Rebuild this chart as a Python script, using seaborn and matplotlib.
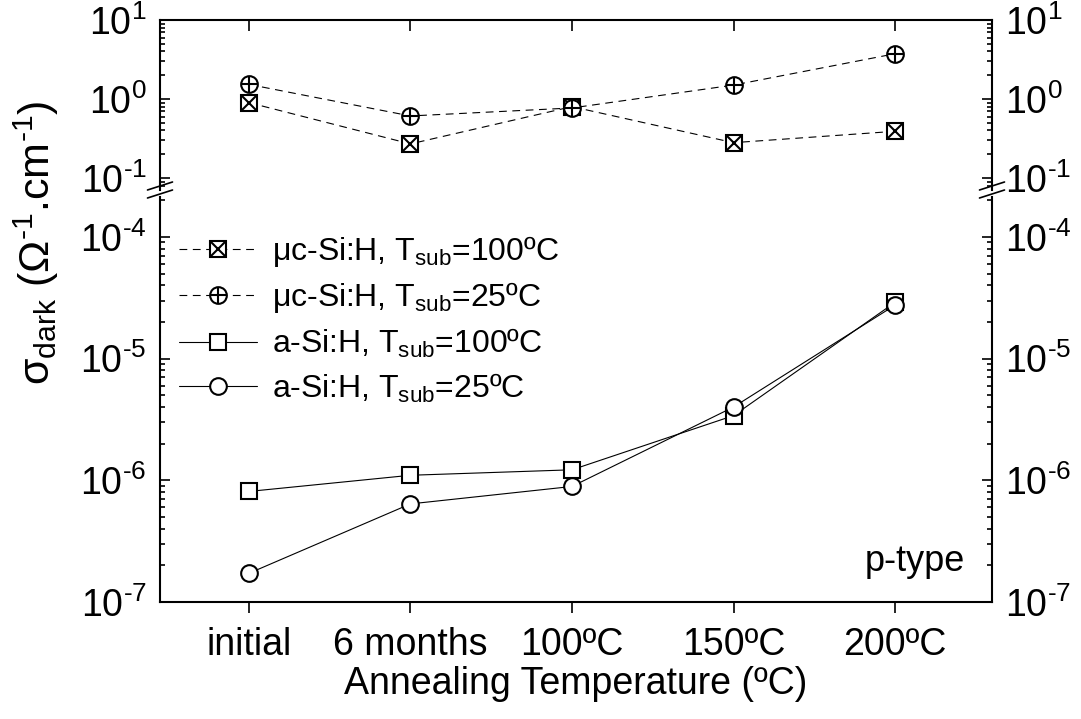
import numpy as np
import matplotlib
matplotlib.use("Agg")
import matplotlib.pyplot as plt
import seaborn as sns
from matplotlib.lines import Line2D
from matplotlib.legend_handler import HandlerTuple
from matplotlib.ticker import LogLocator, NullFormatter, FuncFormatter

# data
categories = ["initial", "6 months", "100ºC", "150ºC", "200ºC"]
uc_100 = [0.90, 0.27, 0.80, 0.28, 0.39]      # uc-Si:H, Tsub=100C
uc_25 = [1.53, 0.61, 0.77, 1.50, 3.74]       # uc-Si:H, Tsub=25C
a_100 = [8.1e-7, 1.10e-6, 1.22e-6, 3.4e-6, 2.9e-5]   # a-Si:H, Tsub=100C
a_25 = [1.72e-7, 6.4e-7, 8.9e-7, 4.0e-6, 2.75e-5]    # a-Si:H, Tsub=25C
labels = [
    "μc-Si:H, T$_{\\mathrm{sub}}$=100ºC",
    "μc-Si:H, T$_{\\mathrm{sub}}$=25ºC",
    "a-Si:H, T$_{\\mathrm{sub}}$=100ºC",
    "a-Si:H, T$_{\\mathrm{sub}}$=25ºC",
]

sns.set_style("ticks")
plt.rcParams["font.family"] = ["Liberation Sans", "DejaVu Sans"]
plt.rcParams["mathtext.fontset"] = "custom"
plt.rcParams["mathtext.rm"] = "Liberation Sans"
plt.rcParams["mathtext.it"] = "Liberation Sans:italic"
plt.rcParams["mathtext.bf"] = "Liberation Sans:bold"
plt.rcParams["axes.linewidth"] = 1.5
for k in ("text.color", "axes.labelcolor", "xtick.color", "ytick.color", "axes.edgecolor"):
    plt.rcParams[k] = "black"

W, H = 1081, 719
fig = plt.figure(figsize=(W / 100, H / 100), dpi=100)
x0, x1 = 160, 992
ax_top = fig.add_axes([x0 / W, (H - 190) / H, (x1 - x0) / W, (190 - 20) / H])
ax_bot = fig.add_axes([x0 / W, (H - 602) / H, (x1 - x0) / W, (602 - 197) / H])

x = np.arange(len(categories))
dash = (0, (7, 5))
mk = dict(ms=12, mfc="white", mec="black", mew=1.5)


def draw(ax, y, marker, ls, extra=None):
    sns.lineplot(x=x, y=y, ax=ax, color="black", lw=0.8, linestyle=ls,
                 marker=marker, errorbar=None, legend=False, **mk)
    main = ax.lines[-1]
    if extra is None:
        return main
    sns.lineplot(x=x, y=y, ax=ax, color="black", linestyle="none",
                 marker=extra, errorbar=None, legend=False,
                 ms=12, mec="black", mew=1.5)
    return (main, ax.lines[-1])


def pow10(v, pos):
    e = int(round(np.log10(v)))
    return "10$^{\\text{%d}}$" % e


for ax in (ax_top, ax_bot):
    ax.set_yscale("log")

h1 = draw(ax_top, uc_100, "s", dash, "x")
h2 = draw(ax_top, uc_25, "o", dash, "+")
h3 = draw(ax_bot, a_100, "s", "-")
h4 = draw(ax_bot, a_25, "o", "-")

ax_top.set_ylim(10 ** -1.152, 10)
ax_bot.set_ylim(1e-7, 10 ** -3.672)
ax_top.set_yticks([0.1, 1, 10])
ax_bot.set_yticks([1e-7, 1e-6, 1e-5, 1e-4])

for ax in (ax_top, ax_bot):
    ax.set_xlim(-0.55, 4.6)
    ax.set_xticks(x)
    ax.yaxis.set_major_formatter(FuncFormatter(pow10))
    ax.yaxis.set_minor_locator(LogLocator(base=10, subs=np.arange(2, 10), numticks=50))
    ax.yaxis.set_minor_formatter(NullFormatter())
    ax.tick_params(axis="y", which="both", direction="in", left=True, right=True,
                   labelleft=True, labelright=True, labelsize=27, width=1.2, pad=9.5)
    ax.tick_params(axis="y", which="major", length=7.2)
    ax.tick_params(axis="y", which="minor", length=3.6)
    ax.set_xlabel("")
    ax.set_ylabel("")
    for s in ax.spines.values():
        s.set_linewidth(1.5)

ax_top.spines["bottom"].set_visible(False)
ax_bot.spines["top"].set_visible(False)
ax_top.tick_params(axis="x", top=True, bottom=False, labelbottom=False,
                   direction="in", length=8, width=1.2)
ax_bot.tick_params(axis="x", top=False, bottom=True, direction="out",
                   length=8, width=1.2, labelsize=27, pad=10)
ax_bot.set_xticklabels(categories)
ax_bot.set_xlabel("Annealing Temperature (ºC)", fontsize=27, labelpad=2)

# break marks on both vertical spines
for xs in (x0, x1):
    for yc in (186, 194):
        fig.add_artist(Line2D([(xs - 12.5) / W, (xs + 12.5) / W],
                              [(H - yc - 4) / H, (H - yc + 4) / H],
                              color="black", lw=1.2, transform=fig.transFigure))

fig.text(36 / W, 1 - 243 / H,
         "σ$_{\\mathrm{dark}}$ (Ω$^{\\text{-1}}$.cm$^{\\text{-1}}$)",
         rotation=90, ha="center", va="center", fontsize=31)

ax_bot.text(0.9675, 0.0765, "p-type", transform=ax_bot.transAxes,
            ha="right", va="baseline", fontsize=26)

ax_bot.legend(handles=[h1, h2, h3, h4], labels=labels,
              handler_map={tuple: HandlerTuple(ndivide=1)},
              loc="upper left", bbox_to_anchor=(0.0, 0.956),
              frameon=False, fontsize=23, handlelength=2.45, handletextpad=0.45,
              labelspacing=0.36, borderaxespad=0.3, borderpad=0.3)

fig.savefig("out.png", dpi=100)
